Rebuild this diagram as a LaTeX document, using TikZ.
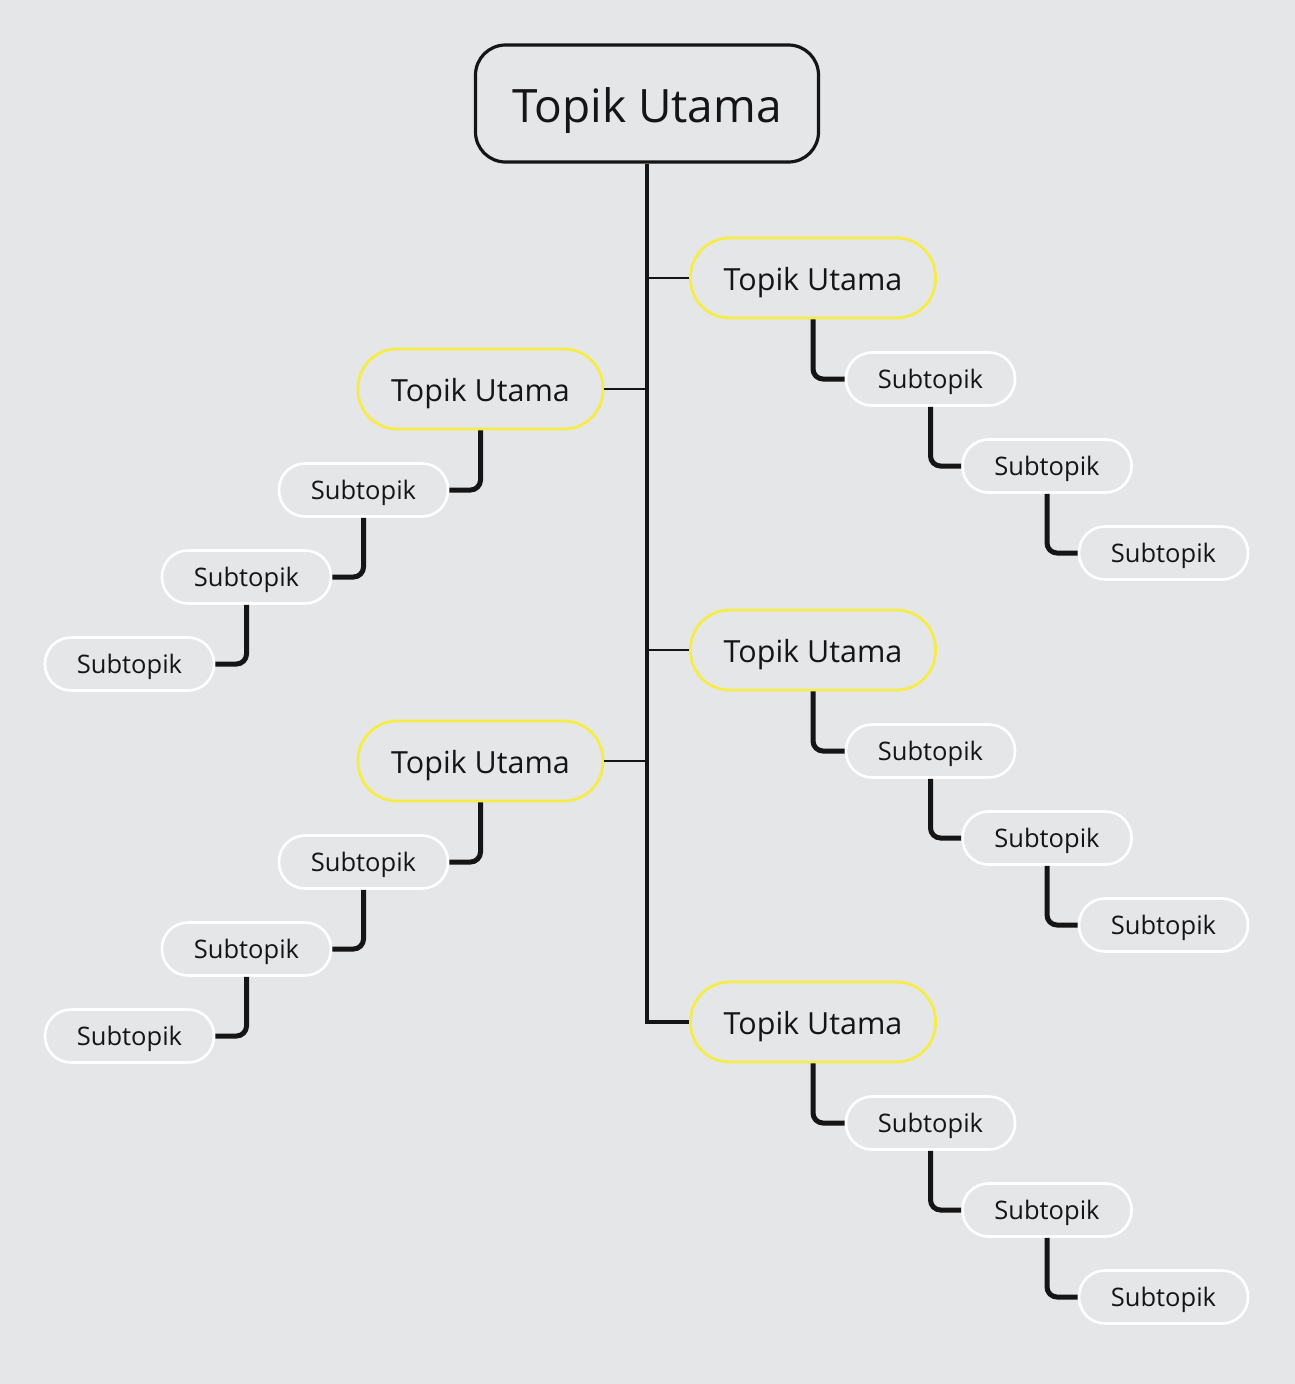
\documentclass[tikz,border=0pt]{standalone}
\usepackage{fontspec}
\setmainfont{Open Sans}
\definecolor{bg}{HTML}{E5E6E8}
\definecolor{ylw}{HTML}{F6EC48}
\definecolor{ink}{HTML}{151515}
\newcommand{\lowerby}[2]{\raisebox{-#1}[\height][\depth]{#2}}
\begin{document}
\begin{tikzpicture}[x=1pt,y=-1pt,
  rootbox/.style={draw=ink,line width=3.2pt,rounded corners=30pt,minimum width=343pt,minimum height=117pt,inner sep=0pt,text=ink,font=\fontsize{46}{54}\selectfont},
  mainbox/.style={draw=ylw,line width=2.8pt,rounded corners=39pt,minimum width=245pt,minimum height=80pt,inner sep=0pt,text=ink,font=\fontsize{30.5}{37}\selectfont},
  subbox/.style={draw=white,line width=2.6pt,rounded corners=26pt,minimum width=169pt,minimum height=53pt,inner sep=0pt,text=ink,font=\fontsize{25.5}{30}\selectfont},
  trunk/.style={draw=ink,line width=3.2pt},
  twig/.style={draw=ink,line width=2.6pt},
  link/.style={draw=ink,line width=5pt,rounded corners=10pt}]
\fill[bg] (0,0) rectangle (1295,1384);
\useasboundingbox (0,0) rectangle (1295,1384);

\node[rootbox] (root) at (647,103.5) {\lowerby{7pt}{Topik Utama}};

\node[mainbox] (r1) at (813,278) {\lowerby{5pt}{Topik Utama}};
\node[mainbox] (l1) at (480.5,389) {\lowerby{5pt}{Topik Utama}};
\node[mainbox] (r2) at (813,650) {\lowerby{5pt}{Topik Utama}};
\node[mainbox] (l2) at (480.5,761) {\lowerby{5pt}{Topik Utama}};
\node[mainbox] (r3) at (813,1022) {\lowerby{5pt}{Topik Utama}};

\coordinate (tb) at (647,278);
\coordinate (tl1) at (647,389);
\coordinate (tr2) at (647,650);
\coordinate (tl2) at (647,761);
\coordinate (tend) at (647,1022);

\draw[trunk] (root.south) -- (tend) -- (r3.west);
\draw[twig] (tb) -- (r1.west);
\draw[twig] (tl1) -- (l1.east);
\draw[twig] (tr2) -- (r2.west);
\draw[twig] (tl2) -- (l2.east);

% right groups
\foreach \g/\y in {a/278,b/650,c/1022}{
  \node[subbox] (\g s1) at (930.5,\y+101) {\lowerby{3pt}{Subtopik}};
  \node[subbox] (\g s2) at (1047,\y+188) {\lowerby{3pt}{Subtopik}};
  \node[subbox] (\g s3) at (1163.5,\y+275) {\lowerby{3pt}{Subtopik}};
}
\draw[link] (r1.south) |- (as1.west);
\draw[link] (as1.south) |- (as2.west);
\draw[link] (as2.south) |- (as3.west);
\draw[link] (r2.south) |- (bs1.west);
\draw[link] (bs1.south) |- (bs2.west);
\draw[link] (bs2.south) |- (bs3.west);
\draw[link] (r3.south) |- (cs1.west);
\draw[link] (cs1.south) |- (cs2.west);
\draw[link] (cs2.south) |- (cs3.west);

% left groups
\foreach \g/\y in {d/389,e/761}{
  \node[subbox] (\g s1) at (363.5,\y+101) {\lowerby{3pt}{Subtopik}};
  \node[subbox] (\g s2) at (246.5,\y+188) {\lowerby{3pt}{Subtopik}};
  \node[subbox] (\g s3) at (129.5,\y+275) {\lowerby{3pt}{Subtopik}};
}
\draw[link] (l1.south) |- (ds1.east);
\draw[link] (ds1.south) |- (ds2.east);
\draw[link] (ds2.south) |- (ds3.east);
\draw[link] (l2.south) |- (es1.east);
\draw[link] (es1.south) |- (es2.east);
\draw[link] (es2.south) |- (es3.east);
\end{tikzpicture}
\end{document}
